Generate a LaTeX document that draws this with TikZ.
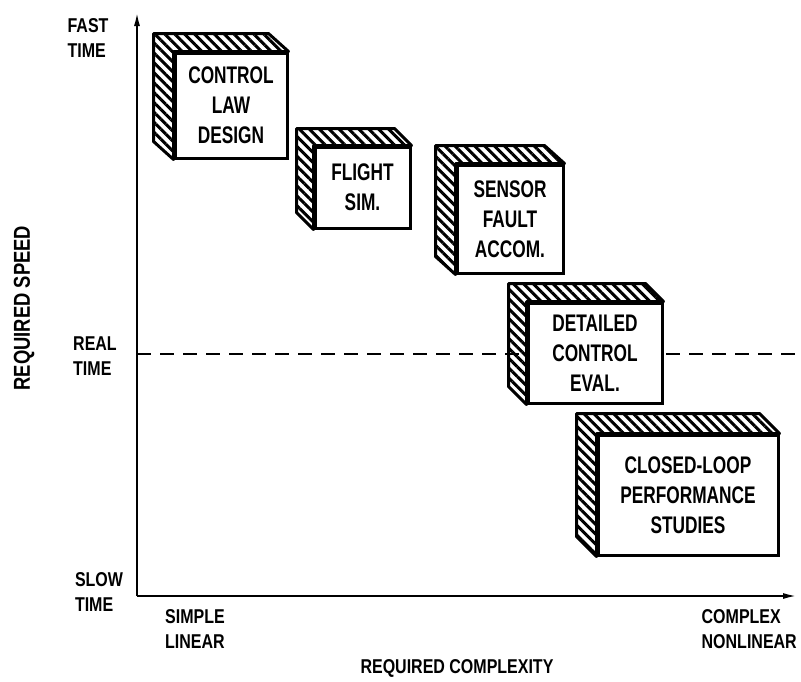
\documentclass[tikz,border=0pt]{standalone}
\usepackage{fontspec}
\setmainfont{Liberation Sans}[FakeStretch=0.8]
\newfontfamily\boxfont{Liberation Sans}[FakeStretch=0.72]
\usetikzlibrary{arrows.meta,patterns.meta,calc}

\tikzset{
  face/.style={draw, line width=3pt, fill=white, align=center, inner sep=0pt,
    font=\boxfont\bfseries\fontsize{24}{30}\selectfont},
  side/.style={draw, line width=3pt, line join=round,
    pattern={Lines[angle=-45, distance=7pt, line width=3pt]}},
  lbl/.style={font=\bfseries\fontsize{20}{25}\selectfont, inner sep=0pt},
  axis/.style={line width=2pt, -{Latex[length=14pt, width=6pt]}},
  realtime/.style={line width=1.4pt, dash pattern=on 14pt off 9pt},
}

\begin{document}
\begin{tikzpicture}[x=1pt, y=-1pt]
\useasboundingbox (0,0) rectangle (801,681);

% axes
\coordinate (o) at (137,596);
\coordinate (ytip) at (137,12);
\coordinate (xtip) at (797,596);
\coordinate (rt) at (137,354);
\coordinate (rtend) at (797,354);
\draw[realtime] (rt) -- (rtend);
\draw[axis] (o) -- (ytip);
\draw[axis] (o) -- (xtip);

\node[lbl, align=left] (fast) at (88,38) {FAST\\TIME};
\node[lbl, align=left] (real) at (95,356) {REAL\\TIME};
\node[lbl, align=left] (slow) at (99,592) {SLOW\\TIME};
\node[lbl, align=left, anchor=north west] (simple) at (165,609) {SIMPLE\\LINEAR};
\node[lbl, align=left, anchor=north east] (complex) at (797,609) {COMPLEX\\NONLINEAR};
\node[lbl, rotate=90, font=\bfseries\fontsize{23}{25}\selectfont] (speed) at (24,308) {REQUIRED SPEED};
\node[lbl] (complexity) at (457,668) {REQUIRED COMPLEXITY};

% boxes
\node[face, minimum width=112pt, minimum height=105pt] (law) at (231,105.5) {CONTROL\\LAW\\DESIGN};
\draw[side] ($(law.north west)+(-20,-18)$) -- ($(law.north east)+(-20,-18)$) -- (law.north east)
  -- (law.north west) -- (law.south west) -- ++(-20,-18) -- cycle;

\node[face, minimum width=95pt, minimum height=81pt] (sim) at (362.5,187.5) {FLIGHT\\SIM.};
\draw[side] ($(sim.north west)+(-17,-17)$) -- ($(sim.north east)+(-17,-17)$) -- (sim.north east)
  -- (sim.north west) -- (sim.south west) -- ++(-17,-17) -- cycle;

\node[face, minimum width=106pt, minimum height=108pt] (sensor) at (510,219) {SENSOR\\FAULT\\ACCOM.};
\draw[side] ($(sensor.north west)+(-20,-18)$) -- ($(sensor.north east)+(-20,-18)$) -- (sensor.north east)
  -- (sensor.north west) -- (sensor.south west) -- ++(-20,-18) -- cycle;

\node[face, minimum width=134pt, minimum height=100pt] (eval) at (595,353) {DETAILED\\CONTROL\\EVAL.};
\draw[side] ($(eval.north west)+(-18,-18)$) -- ($(eval.north east)+(-18,-18)$) -- (eval.north east)
  -- (eval.north west) -- (eval.south west) -- ++(-18,-18) -- cycle;

\node[face, minimum width=180pt, minimum height=120pt] (loop) at (688,495) {CLOSED-LOOP\\PERFORMANCE\\STUDIES};
\draw[side] ($(loop.north west)+(-20,-20)$) -- ($(loop.north east)+(-20,-20)$) -- (loop.north east)
  -- (loop.north west) -- (loop.south west) -- ++(-20,-20) -- cycle;

\end{tikzpicture}
\end{document}
